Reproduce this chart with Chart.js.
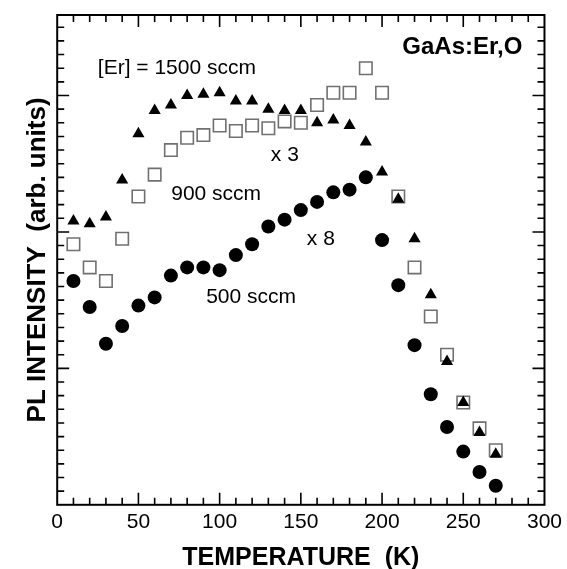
<!DOCTYPE html>
<html lang="en">
<head>
<meta charset="UTF-8">
<script src="https://cdn.jsdelivr.net/npm/chart.js@4.4.1/dist/chart.umd.min.js"></script>
<title>GaAs:Er,O PL intensity</title>
<style>
  html, body { margin: 0; padding: 0; background: #fff; }
</style>
</head>
<body>
<canvas id="chart" width="567" height="569"></canvas>
<script>
// temperatures (K)
var temps = [10, 20, 30, 40, 50, 60, 70, 80, 90, 100, 110, 120, 130, 140, 150,
             160, 170, 180, 190, 200, 210, 220, 230, 240, 250, 260, 270];
// PL intensity (arb. units, in decades of the plot)
var er1500 = [2.08, 2.06, 2.11, 2.38, 2.72, 2.89, 2.93, 3.00, 3.01, 3.02, 2.96, 2.96, 2.90, 2.89, 2.89,
              2.80, 2.82, 2.78, 2.66, 2.44, 2.24, 1.95, 1.54, 1.05, 0.75, 0.53, 0.37];
var er900 = [1.91, 1.74, 1.64, 1.95, 2.26, 2.42, 2.60, 2.69, 2.71, 2.78, 2.74, 2.78, 2.76, 2.81, 2.80,
             2.93, 3.02, 3.02, 3.20, 3.02, 2.26, 1.74, 1.38, 1.10, 0.75, 0.56, 0.40];
var er500 = [1.64, 1.45, 1.18, 1.31, 1.46, 1.52, 1.68, 1.74, 1.74, 1.72, 1.83, 1.91, 2.04, 2.09, 2.16,
             2.22, 2.29, 2.31, 2.40, 1.94, 1.61, 1.17, 0.81, 0.57, 0.39, 0.24, 0.14];
var xTicks = [0, 50, 100, 150, 200, 250, 300];

var notes = [
  { text: '[Er] = 1500 sccm', x: 25, y: 3.20 },
  { text: 'x 3', x: 131.5, y: 2.56 },
  { text: '900 sccm', x: 70.2, y: 2.28 },
  { text: 'x 8', x: 153.7, y: 1.95 },
  { text: '500 sccm', x: 91.7, y: 1.52 },
  { text: 'GaAs:Er,O', x: 212.5, y: 3.355, bold: true }
];

var FONT = "'Liberation Sans', Arial, sans-serif";

function pts(vals) {
  return temps.map(function (t, i) { return { x: t, y: vals[i] }; });
}

// frame + inward ticks on all four sides
var frame = {
  id: 'frame',
  afterDraw: function (chart) {
    var ctx = chart.ctx, a = chart.chartArea, x = chart.scales.x, y = chart.scales.y;
    ctx.save();
    ctx.strokeStyle = '#000';
    ctx.lineWidth = 2;
    ctx.strokeRect(a.left, a.top, a.right - a.left, a.bottom - a.top);
    ctx.lineWidth = 1.6;
    ctx.beginPath();
    for (var t = 10; t < 300; t += 10) {
      var px = x.getPixelForValue(t);
      var len = t % 50 === 0 ? 12 : 7;
      ctx.moveTo(px, a.bottom); ctx.lineTo(px, a.bottom - len);
      ctx.moveTo(px, a.top); ctx.lineTo(px, a.top + len);
    }
    for (var i = 1; i <= 35; i++) {
      var py = y.getPixelForValue(i / 10);
      var l2 = i % 10 === 0 ? 12 : 7;
      ctx.moveTo(a.left, py); ctx.lineTo(a.left + l2, py);
      ctx.moveTo(a.right, py); ctx.lineTo(a.right - l2, py);
    }
    ctx.stroke();
    ctx.restore();
  }
};

var labels = {
  id: 'labels',
  afterDatasetsDraw: function (chart) {
    var ctx = chart.ctx, x = chart.scales.x, y = chart.scales.y;
    ctx.save();
    ctx.fillStyle = '#000';
    ctx.textAlign = 'left';
    ctx.textBaseline = 'middle';
    notes.forEach(function (n) {
      ctx.font = (n.bold ? 'bold 24px ' : '21px ') + FONT;
      ctx.fillText(n.text, x.getPixelForValue(n.x), y.getPixelForValue(n.y));
    });
    ctx.restore();
  }
};

var chart = new Chart(document.getElementById('chart'), {
  type: 'scatter',
  data: {
    datasets: [
      { label: '1500 sccm', data: pts(er1500), pointStyle: 'triangle', pointRadius: 7,
        backgroundColor: '#000', borderColor: '#000', borderWidth: 0, order: 0 },
      { label: '500 sccm', data: pts(er500), pointStyle: 'circle', pointRadius: 7,
        backgroundColor: '#000', borderColor: '#000', borderWidth: 0, order: 1 },
      { label: '900 sccm', data: pts(er900), pointStyle: 'rect', pointRadius: 8.8,
        backgroundColor: 'rgba(255,255,255,0)', borderColor: '#707070', borderWidth: 1.6, order: 2 }
    ]
  },
  options: {
    responsive: false,
    animation: false,
    devicePixelRatio: 1,
    layout: { padding: { top: 15, right: 18, bottom: 0, left: 0 } },
    plugins: { legend: { display: false }, tooltip: { enabled: false } },
    scales: {
      x: {
        type: 'linear', min: 0, max: 300,
        afterBuildTicks: function (s) { s.ticks = xTicks.map(function (v) { return { value: v }; }); },
        ticks: { color: '#000', padding: 5, maxRotation: 0, font: { family: FONT, size: 21 } },
        grid: { display: false, drawTicks: false },
        border: { display: false },
        title: { display: true, text: 'TEMPERATURE  (K)', color: '#000',
                 font: { family: FONT, size: 25, weight: 'bold' }, padding: { top: 3, bottom: -4 } }
      },
      y: {
        type: 'linear', min: 0, max: 3.59,
        ticks: { display: false },
        grid: { display: false, drawTicks: false },
        border: { display: false },
        title: { display: true, text: 'PL INTENSITY  (arb. units)', color: '#000',
                 font: { family: FONT, size: 26, weight: 'bold' }, padding: { top: 22, bottom: 4 } }
      }
    }
  },
  plugins: [frame, labels]
});
</script>
</body>
</html>
